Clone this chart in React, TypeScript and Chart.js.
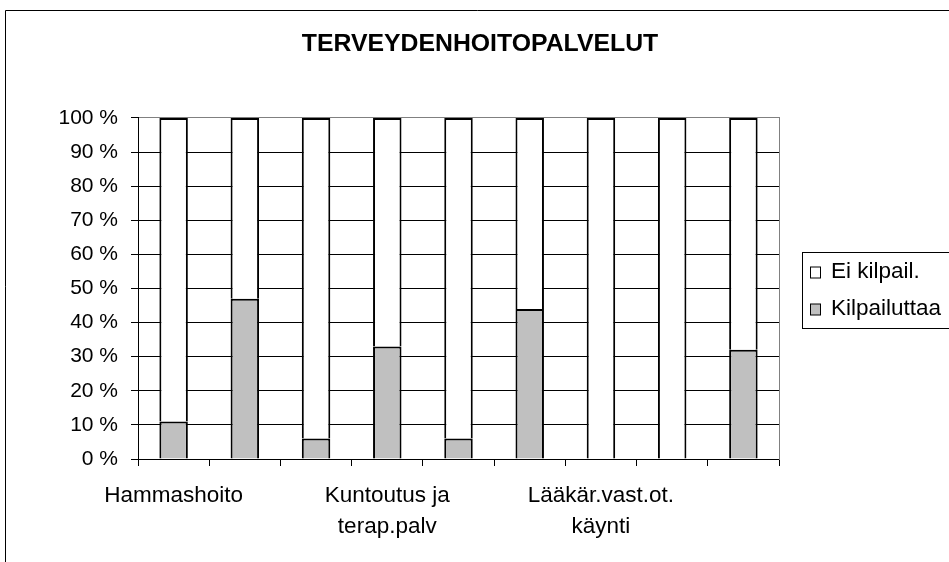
import React, { useEffect, useRef } from "react";
import { Chart, registerables } from "chart.js";

Chart.register(...registerables);

const titleText = "TERVEYDENHOITOPALVELUT";
const categories: (string | string[])[] = [
  "Hammashoito",
  "",
  "",
  ["Kuntoutus ja", "terap.palv"],
  "",
  "",
  ["Lääkär.vast.ot.", "käynti"],
  "",
  "",
];
const kilpailuttaa = [11, 47, 6, 33, 6, 44, 0, 0, 32];
const eiKilpail = [89, 53, 94, 67, 94, 56, 100, 100, 68];
const seriesLabels = ["Kilpailuttaa", "Ei kilpail."];
const yTicks = [0, 10, 20, 30, 40, 50, 60, 70, 80, 90, 100];

const FONT = "'Liberation Sans', Arial, sans-serif";

const framePlugin = {
  id: "frame",
  beforeDraw(chart: any) {
    const ctx = chart.ctx;
    ctx.save();
    ctx.fillStyle = "#fff";
    ctx.fillRect(0, 0, chart.width, chart.height);
    ctx.strokeStyle = "#000";
    ctx.lineWidth = 1;
    ctx.beginPath();
    ctx.moveTo(5.5, chart.height + 5);
    ctx.lineTo(5.5, 10.5);
    ctx.lineTo(chart.width + 5, 10.5);
    ctx.stroke();
    ctx.restore();
  },
};

const legendPlugin = {
  id: "boxLegend",
  afterDraw(chart: any) {
    const ctx = chart.ctx;
    const area = chart.chartArea;
    const left = area.right + 23;
    const top = 252.5;
    const rowH = 37;
    const ds = chart.data.datasets.slice().reverse();
    ctx.save();
    ctx.strokeStyle = "#000";
    ctx.lineWidth = 1;
    ctx.strokeRect(left + 0.5, top, chart.width, 76);
    ctx.font = `22.5px ${FONT}`;
    ctx.textBaseline = "middle";
    ctx.textAlign = "left";
    ds.forEach((d: any, i: number) => {
      const cy = top + 19.5 + i * rowH;
      ctx.fillStyle = d.backgroundColor;
      ctx.fillRect(left + 8.5, cy - 5, 10, 11);
      ctx.strokeRect(left + 8.5, cy - 5, 10, 11);
      ctx.fillStyle = "#000";
      ctx.fillText(d.label, left + 29, cy);
    });
    ctx.restore();
  },
};

export default function App() {
  const ref = useRef<HTMLCanvasElement | null>(null);
  useEffect(() => {
    if (!ref.current) return;
    const chart = new Chart(ref.current, {
      type: "bar",
      data: {
        labels: categories,
        datasets: [
          {
            label: seriesLabels[0],
            data: kilpailuttaa,
            backgroundColor: "#C0C0C0",
            borderColor: "#000",
            borderWidth: 2,
            barPercentage: 0.4,
            categoryPercentage: 1,
          },
          {
            label: seriesLabels[1],
            data: eiKilpail,
            backgroundColor: "#FFFFFF",
            borderColor: "#000",
            borderWidth: 2,
            barPercentage: 0.4,
            categoryPercentage: 1,
          },
        ],
      },
      options: {
        responsive: false,
        animation: false,
        layout: { padding: { left: 11, right: 0, top: 0, bottom: 0 } },
        plugins: {
          legend: { display: false },
          tooltip: { enabled: false },
          title: {
            display: true,
            text: titleText,
            color: "#000",
            font: { family: FONT, size: 24.8, weight: "bold" },
            padding: { top: 29, bottom: 59.2 },
          },
        },
        scales: {
          x: {
            stacked: true,
            offset: true,
            grid: {
              offset: true,
              drawOnChartArea: false,
              drawTicks: true,
              tickLength: 7,
              color: "#000",
            },
            border: { color: "#000", width: 1 },
            ticks: {
              autoSkip: false,
              maxRotation: 0,
              minRotation: 0,
              color: "#000",
              padding: 14,
              font: { family: FONT, size: 22.5, lineHeight: 1.4 },
            },
            afterFit(scale: any) {
              scale.height = 103;
            },
          },
          y: {
            stacked: true,
            min: 0,
            max: 100,
            afterBuildTicks(scale: any) {
              scale.ticks = yTicks.map((v) => ({ value: v }));
            },
            grid: {
              color: (c: any) => (c.tick && c.tick.value === 100 ? "#808080" : "#000"),
              tickColor: "#000",
              tickLength: 7,
              lineWidth: 1,
            },
            border: { color: "#000", width: 1 },
            ticks: {
              color: "#000",
              padding: 13,
              font: { family: FONT, size: 21 },
              callback: (v: any) => `${v} %`,
            },
            afterFit(scale: any) {
              scale.width = 127;
            },
          },
          yRight: {
            type: "linear",
            position: "right",
            min: 0,
            max: 100,
            grid: { display: false },
            ticks: { display: false },
            border: { display: true, color: "#808080", width: 1 },
            afterFit(scale: any) {
              scale.width = 170;
            },
          },
        },
      } as any,
      plugins: [framePlugin, legendPlugin],
    });
    return () => chart.destroy();
  }, []);
  return (
    <div style={{ position: "fixed", left: 0, top: 0, width: 949, height: 562 }}>
      <canvas ref={ref} width={949} height={562} style={{ display: "block" }} />
    </div>
  );
}
